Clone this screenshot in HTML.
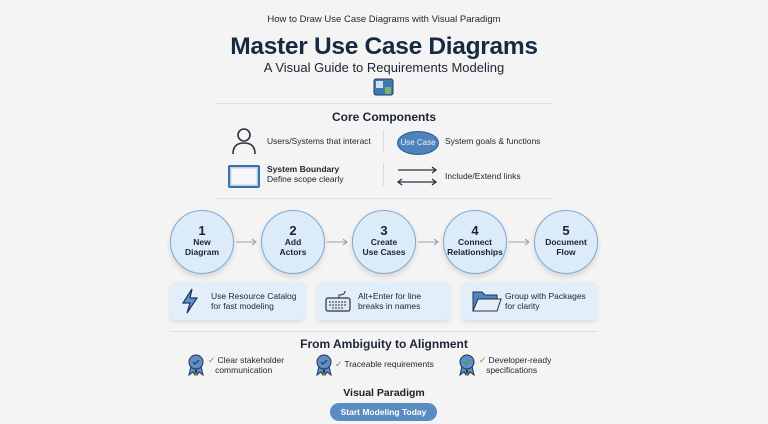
<!DOCTYPE html>
<html><head><meta charset="utf-8"><style>
html,body{margin:0;padding:0}
body{width:768px;height:424px;overflow:hidden;background:#f4f4f4;font-family:"Liberation Sans",sans-serif;color:#1c2533;position:relative}
.t{position:absolute;white-space:nowrap}
.c{text-align:center}
.circ{position:absolute;width:62px;height:62px;border-radius:50%;background:#dcebf8;border:1.5px solid #7fa9d3;box-shadow:0 3px 6px rgba(0,0,0,.12);text-align:center;font-weight:bold;color:#1a2433;font-size:8.5px;line-height:9.5px}
.circ b{display:block;font-size:13px;line-height:14px;margin-top:13px}
.tip{position:absolute;top:282px;height:38px;background:#e2eef9;border-radius:5px;box-shadow:0 2px 4px rgba(0,0,0,.1)}
.tip span{position:absolute;top:10px;font-size:8.5px;line-height:9.5px;color:#1c2533}
</style></head><body>
<div class="t c" style="left:0;width:768px;top:14px;font-size:9.5px">How to Draw Use Case Diagrams with Visual Paradigm</div>
<div class="t c" style="left:0;width:768px;top:33px;font-size:24.5px;font-weight:bold;color:#182a42;letter-spacing:-0.3px">Master Use Case Diagrams</div>
<div class="t c" style="left:0;width:768px;top:60px;font-size:13px">A Visual Guide to Requirements Modeling</div>
<svg class="t" style="left:373px;top:78px" width="22" height="18"><rect x="1" y="1" width="19" height="16" rx="2" fill="#3f78b5" stroke="#1f3f66"/><rect x="3" y="3" width="7" height="7" fill="#cde1f3"/><rect x="12" y="9" width="6" height="7" fill="#7cb36a"/></svg>
<div class="t" style="left:215px;top:103px;width:337px;border-top:1px solid #dde1e6"></div>
<div class="t c" style="left:0;width:768px;top:110px;font-size:12px;font-weight:bold">Core Components</div>
<svg class="t" style="left:230px;top:127px" width="28" height="28"><circle cx="14" cy="8" r="6" fill="none" stroke="#2b3340" stroke-width="1.6"/><path d="M3 27 Q3 16 14 16 Q25 16 25 27" fill="none" stroke="#2b3340" stroke-width="1.6"/></svg>
<div class="t" style="left:267px;top:136px;font-size:8.5px">Users/Systems that interact</div>
<div class="t" style="left:383px;top:130px;height:23px;border-left:1px solid #d9dde2"></div>
<div class="t c" style="left:397px;top:131px;width:40px;height:22px;border-radius:50%;background:#4d82bd;border:1px solid #2e5c90;color:#eef4fb;font-size:8px;line-height:22px">Use Case</div>
<div class="t" style="left:445px;top:136px;font-size:8.5px">System goals &amp; functions</div>
<div class="t" style="left:228px;top:165px;width:28px;height:19px;border:2px solid #3f6f9f;background:#f5f7fa;border-radius:2px;box-shadow:inset 0 0 0 1.5px #b9d1ea"></div>
<div class="t" style="left:267px;top:164px;font-size:8.5px;line-height:10px"><b>System Boundary</b><br>Define scope clearly</div>
<div class="t" style="left:383px;top:163px;height:23px;border-left:1px solid #d9dde2"></div>
<svg class="t" style="left:396px;top:164px" width="44" height="24"><path d="M2 6 H40 M36 3 L40 6 L36 9" fill="none" stroke="#23344b" stroke-width="1.3"/><path d="M2 18 H40 M36 15 L40 18 L36 21 M6 15 L2 18 L6 21" fill="none" stroke="#23344b" stroke-width="1.3"/></svg>
<div class="t" style="left:445px;top:171px;font-size:8.5px">Include/Extend links</div>
<div class="t" style="left:215px;top:198px;width:337px;border-top:1px solid #dde1e6"></div>

<div class="circ" style="left:170px;top:210px"><b>1</b>New<br>Diagram</div>
<div class="circ" style="left:261px;top:210px"><b>2</b>Add<br>Actors</div>
<div class="circ" style="left:352px;top:210px"><b>3</b>Create<br>Use Cases</div>
<div class="circ" style="left:443px;top:210px"><b>4</b>Connect<br>Relationships</div>
<div class="circ" style="left:534px;top:210px"><b>5</b>Document<br>Flow</div>
<svg class="t" style="left:0;top:0" width="768" height="260"><g fill="none" stroke="#9aa3ad" stroke-width="1.1">
<path d="M236 242 H256 M252 239 L256 242 L252 245"/><path d="M327 242 H347 M343 239 L347 242 L343 245"/><path d="M418 242 H438 M434 239 L438 242 L434 245"/><path d="M509 242 H529 M525 239 L529 242 L525 245"/></g></svg>

<div class="tip" style="left:170px;width:135px"><svg style="position:absolute;left:10px;top:6px" width="20" height="26"><path d="M12 1 L3 15 H10 L7 25 L17 10 H10 Z" fill="#5a96d4" stroke="#1e3550" stroke-width="1.2"/></svg><span style="left:41px">Use Resource Catalog<br>for fast modeling</span></div>
<div class="tip" style="left:317px;width:133px"><svg style="position:absolute;left:8px;top:8px" width="26" height="22"><path d="M20 1 Q20 5 14 5 V8" fill="none" stroke="#2b3340"/><rect x="1" y="8" width="24" height="13" rx="2" fill="#dfe7ef" stroke="#2b3340" stroke-width="1.2"/><path d="M4 12 H22 M4 15 H22 M7 18 H19" stroke="#2b3340" stroke-dasharray="2 1"/></svg><span style="left:41px">Alt+Enter for line<br>breaks in names</span></div>
<div class="tip" style="left:462px;width:135px"><svg style="position:absolute;left:10px;top:7px" width="30" height="24"><path d="M1 3 H10 L13 6 H25 V22 H1 Z" fill="#4f86c2" stroke="#1e3550"/><path d="M1 22 L6 10 H29 L25 22 Z" fill="#e8eff6" stroke="#1e3550"/></svg><span style="left:43px">Group with Packages<br>for clarity</span></div>
<div class="t" style="left:170px;top:331px;width:427px;border-top:1px solid #dde1e6"></div>

<div class="t c" style="left:0;width:768px;top:337px;font-size:12px;font-weight:bold">From Ambiguity to Alignment</div>
<svg class="t" style="left:186px;top:354px" width="20" height="22"><path d="M5 12 L3 21 L7 18 L9 21 L10 14 M15 12 L17 21 L13 18 L11 21 L10 14" fill="#5a8fc7" stroke="#243246"/><circle cx="10" cy="8" r="7" fill="#5a8fc7" stroke="#243246"/><path d="M7 8 L9 10 L13 6" fill="none" stroke="#243246"/></svg>
<div class="t" style="left:208px;top:356px;font-size:8.5px;line-height:9.5px"><span style="color:#3aa53a">✓</span> Clear stakeholder<br>&nbsp;&nbsp;&nbsp;communication</div>
<svg class="t" style="left:314px;top:354px" width="20" height="22"><path d="M5 12 L3 21 L7 18 L9 21 L10 14 M15 12 L17 21 L13 18 L11 21 L10 14" fill="#5a8fc7" stroke="#243246"/><circle cx="10" cy="8" r="7" fill="#5a8fc7" stroke="#243246"/><path d="M7 8 L9 10 L13 6" fill="none" stroke="#243246"/></svg>
<div class="t" style="left:335px;top:359px;font-size:8.5px"><span style="color:#3aa53a">✓</span> Traceable requirements</div>
<svg class="t" style="left:457px;top:354px" width="20" height="22"><path d="M5 12 L3 21 L7 18 L9 21 L10 14 M15 12 L17 21 L13 18 L11 21 L10 14" fill="#5a8fc7" stroke="#243246"/><circle cx="10" cy="8" r="7" fill="#5a8fc7" stroke="#243246"/><path d="M7 8 L9 10 L13 6" fill="none" stroke="#3aa53a"/></svg>
<div class="t" style="left:479px;top:356px;font-size:8.5px;line-height:9.5px"><span style="color:#3aa53a">✓</span> Developer-ready<br>&nbsp;&nbsp;&nbsp;specifications</div>
<div class="t c" style="left:0;width:768px;top:387px;font-size:10.5px;font-weight:bold;color:#222">Visual Paradigm</div>
<div class="t c" style="left:330px;top:403px;width:107px;height:18px;line-height:18px;border-radius:9px;background:#5a8cc2;color:#fff;font-size:8.5px;font-weight:bold">Start Modeling Today</div>
</body></html>
